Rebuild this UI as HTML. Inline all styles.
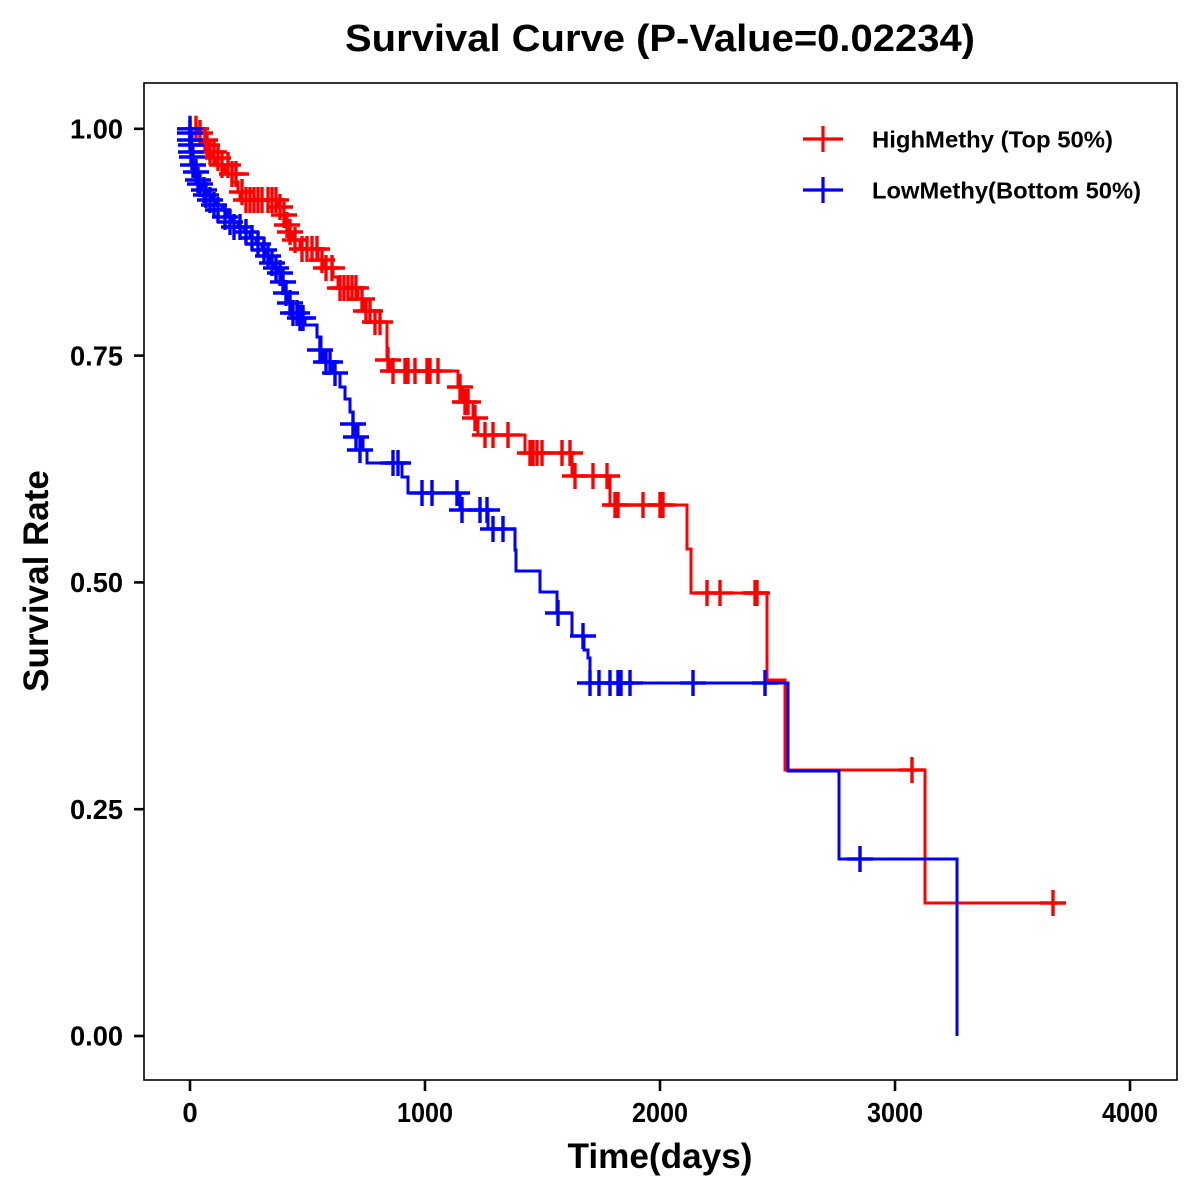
<!DOCTYPE html>
<html>
<head>
<meta charset="utf-8">
<style>
html,body{margin:0;padding:0;background:#fff;}
svg{display:block;}
text{font-family:"Liberation Sans",Arial,sans-serif;font-weight:bold;fill:#000;}
</style>
</head>
<body>
<svg width="1200" height="1200" viewBox="0 0 1200 1200" xmlns="http://www.w3.org/2000/svg">
<defs>
<path id="pl" d="M-13,0H13M0,-13V13" />
</defs>
<rect x="0" y="0" width="1200" height="1200" fill="#fff"/>

<!-- title -->
<text x="660" y="51" font-size="38" text-anchor="middle" textLength="630" lengthAdjust="spacingAndGlyphs">Survival Curve (P-Value=0.02234)</text>

<!-- frame -->
<rect x="144" y="83" width="1033" height="997" fill="none" stroke="#000" stroke-width="1.6"/>

<!-- y ticks -->
<g stroke="#000" stroke-width="2.6">
<line x1="134" y1="128.8" x2="144" y2="128.8"/>
<line x1="134" y1="355.6" x2="144" y2="355.6"/>
<line x1="134" y1="582.4" x2="144" y2="582.4"/>
<line x1="134" y1="809.2" x2="144" y2="809.2"/>
<line x1="134" y1="1036" x2="144" y2="1036"/>
</g>
<g font-size="27.5" text-anchor="end">
<text x="123" y="138.5" textLength="53" lengthAdjust="spacingAndGlyphs">1.00</text>
<text x="123" y="365.3" textLength="53" lengthAdjust="spacingAndGlyphs">0.75</text>
<text x="123" y="592.1" textLength="53" lengthAdjust="spacingAndGlyphs">0.50</text>
<text x="123" y="818.9" textLength="53" lengthAdjust="spacingAndGlyphs">0.25</text>
<text x="123" y="1045.7" textLength="53" lengthAdjust="spacingAndGlyphs">0.00</text>
</g>

<!-- x ticks -->
<g stroke="#000" stroke-width="2.6">
<line x1="190" y1="1080" x2="190" y2="1091"/>
<line x1="425" y1="1080" x2="425" y2="1091"/>
<line x1="660" y1="1080" x2="660" y2="1091"/>
<line x1="895" y1="1080" x2="895" y2="1091"/>
<line x1="1130" y1="1080" x2="1130" y2="1091"/>
</g>
<g font-size="27.5" text-anchor="middle">
<text x="190" y="1122">0</text>
<text x="425" y="1122" textLength="56" lengthAdjust="spacingAndGlyphs">1000</text>
<text x="660" y="1122" textLength="56" lengthAdjust="spacingAndGlyphs">2000</text>
<text x="895" y="1122" textLength="56" lengthAdjust="spacingAndGlyphs">3000</text>
<text x="1130" y="1122" textLength="56" lengthAdjust="spacingAndGlyphs">4000</text>
</g>

<!-- axis labels -->
<text x="660" y="1168" font-size="35" text-anchor="middle" textLength="185" lengthAdjust="spacingAndGlyphs">Time(days)</text>
<text transform="translate(48,581) rotate(-90)" font-size="35" text-anchor="middle">Survival Rate</text>

<!-- red curve -->
<g stroke="#ff0000" stroke-width="3" fill="none">
<path d="M190,128.8 H197 V133 H200 V140 H203 V145 H207 V152 H212 V158 H217 V165 H225 V174 H232 V182 H238 V192 H240 V200 H278 V207 H280 V215 H285 V225 H288 V232 H292 V240 H300 V249 H318 V260 H325 V268 H333 V277 H338 V288 H358 V299 H365 V311 H370 V322 H387 V360 H390 V371 H458 V387 H462 V402 H473 V418 H478 V435 H525 V453 H572 V476 H610 V505 H687 V549 H691 V593 H767 V680 H785 V770 H925 V903 H1065"/>
<g stroke-width="3.4">
<use href="#pl" x="196" y="128.8"/><use href="#pl" x="200" y="133"/><use href="#pl" x="205" y="140"/><use href="#pl" x="207" y="145"/>
<use href="#pl" x="210" y="152"/><use href="#pl" x="214" y="152"/><use href="#pl" x="218" y="158"/><use href="#pl" x="222" y="165"/>
<use href="#pl" x="228" y="165"/><use href="#pl" x="232" y="174"/><use href="#pl" x="236" y="174"/><use href="#pl" x="242" y="192"/>
<use href="#pl" x="246" y="200"/><use href="#pl" x="250" y="200"/><use href="#pl" x="254" y="200"/><use href="#pl" x="258" y="200"/>
<use href="#pl" x="262" y="200"/><use href="#pl" x="268" y="200"/><use href="#pl" x="272" y="200"/><use href="#pl" x="276" y="200"/>
<use href="#pl" x="280" y="207"/><use href="#pl" x="284" y="215"/><use href="#pl" x="287" y="225"/><use href="#pl" x="290" y="232"/>
<use href="#pl" x="295" y="240"/><use href="#pl" x="302" y="249"/><use href="#pl" x="307" y="249"/><use href="#pl" x="312" y="249"/>
<use href="#pl" x="317" y="249"/><use href="#pl" x="322" y="260"/><use href="#pl" x="326" y="268"/><use href="#pl" x="332" y="268"/>
<use href="#pl" x="340" y="288"/><use href="#pl" x="344" y="288"/><use href="#pl" x="348" y="288"/><use href="#pl" x="352" y="288"/>
<use href="#pl" x="356" y="288"/><use href="#pl" x="362" y="299"/><use href="#pl" x="366" y="311"/><use href="#pl" x="370" y="311"/>
<use href="#pl" x="375" y="322"/><use href="#pl" x="380" y="322"/><use href="#pl" x="388" y="360"/>
<use href="#pl" x="393" y="371"/><use href="#pl" x="405" y="371"/><use href="#pl" x="408" y="371"/><use href="#pl" x="415" y="371"/>
<use href="#pl" x="427" y="371"/><use href="#pl" x="430" y="371"/><use href="#pl" x="438" y="371"/><use href="#pl" x="460" y="387"/>
<use href="#pl" x="465" y="402"/><use href="#pl" x="468" y="402"/><use href="#pl" x="475" y="418"/><use href="#pl" x="485" y="435"/>
<use href="#pl" x="493" y="435"/><use href="#pl" x="508" y="435"/><use href="#pl" x="530" y="453"/><use href="#pl" x="533" y="453"/>
<use href="#pl" x="537" y="453"/><use href="#pl" x="542" y="453"/><use href="#pl" x="562" y="453"/><use href="#pl" x="570" y="453"/>
<use href="#pl" x="575" y="476"/><use href="#pl" x="593" y="476"/><use href="#pl" x="607" y="476"/><use href="#pl" x="615" y="505"/>
<use href="#pl" x="618" y="505"/><use href="#pl" x="643" y="505"/><use href="#pl" x="660" y="505"/><use href="#pl" x="663" y="505"/>
<use href="#pl" x="707" y="593"/><use href="#pl" x="720" y="593"/><use href="#pl" x="755" y="593"/><use href="#pl" x="757" y="593"/>
<use href="#pl" x="912" y="770"/><use href="#pl" x="1053" y="903"/>
</g>
</g>

<!-- blue curve -->
<g stroke="#0000ff" stroke-width="3" fill="none">
<path d="M190,128.8 H191 V133 H192 V140 V145 H193 V152 V157 H194 V165 H196 V172 H198 V180 H200 V184 H203 V190 H207 V195 H212 V200 H217 V205 H222 V210 H227 V217 H232 V222 H238 V227 H244 V232 H250 V238 H256 V244 H262 V250 H266 V256 H270 V263 H274 V268 H278 V273 H282 V282 H285 V293 H288 V303 H292 V313 H297 V318 H305 V325 H317 V337 H321 V350 H323 V362 H333 V373 H340 V387 H345 V399 H350 V412 H353 V424 H358 V437 H363 V450 H367 V463 H402 V477 H408 V493 H460 V510 H488 V529 H515 V550 H516 V571 H540 V592 H557 V613 H572 V636 H584 V650 H588 V658 H590 V683 H788 V771 H839 V859 H957 V1036"/>
<g stroke-width="3.4">
<use href="#pl" x="190" y="128.8"/><use href="#pl" x="190" y="133"/><use href="#pl" x="190" y="140"/><use href="#pl" x="191" y="145"/>
<use href="#pl" x="191" y="152"/><use href="#pl" x="192" y="157"/><use href="#pl" x="193" y="165"/><use href="#pl" x="196" y="172"/>
<use href="#pl" x="198" y="180"/><use href="#pl" x="200" y="184"/><use href="#pl" x="204" y="190"/><use href="#pl" x="206" y="195"/>
<use href="#pl" x="210" y="200"/><use href="#pl" x="214" y="205"/><use href="#pl" x="218" y="210"/><use href="#pl" x="225" y="217"/>
<use href="#pl" x="230" y="222"/><use href="#pl" x="234" y="227"/><use href="#pl" x="240" y="227"/><use href="#pl" x="246" y="232"/>
<use href="#pl" x="252" y="238"/><use href="#pl" x="258" y="244"/><use href="#pl" x="264" y="250"/><use href="#pl" x="268" y="256"/>
<use href="#pl" x="272" y="263"/><use href="#pl" x="276" y="268"/><use href="#pl" x="280" y="273"/><use href="#pl" x="283" y="282"/>
<use href="#pl" x="286" y="293"/><use href="#pl" x="290" y="303"/><use href="#pl" x="293" y="313"/><use href="#pl" x="297" y="313"/>
<use href="#pl" x="300" y="318"/><use href="#pl" x="303" y="318"/><use href="#pl" x="320" y="350"/><use href="#pl" x="326" y="362"/>
<use href="#pl" x="330" y="362"/><use href="#pl" x="335" y="373"/><use href="#pl" x="353" y="424"/><use href="#pl" x="356" y="437"/>
<use href="#pl" x="360" y="450"/><use href="#pl" x="393" y="463"/><use href="#pl" x="398" y="463"/><use href="#pl" x="422" y="493"/>
<use href="#pl" x="432" y="493"/><use href="#pl" x="457" y="493"/><use href="#pl" x="462" y="510"/><use href="#pl" x="480" y="510"/>
<use href="#pl" x="487" y="510"/><use href="#pl" x="493" y="529"/><use href="#pl" x="503" y="529"/><use href="#pl" x="558" y="613"/>
<use href="#pl" x="583" y="636"/><use href="#pl" x="590" y="683"/><use href="#pl" x="599" y="683"/><use href="#pl" x="610" y="683"/>
<use href="#pl" x="618" y="683"/><use href="#pl" x="621" y="683"/><use href="#pl" x="630" y="683"/><use href="#pl" x="693" y="683"/>
<use href="#pl" x="765" y="683"/><use href="#pl" x="860" y="859"/>
</g>
</g>

<!-- legend -->
<g stroke-width="3.2" fill="none">
<path d="M803,139H843M823,126V152" stroke="#ff0000"/>
<path d="M803,190H843M823,177V203" stroke="#0000ff"/>
</g>
<text x="872" y="147.5" font-size="23.5" textLength="241" lengthAdjust="spacingAndGlyphs">HighMethy (Top 50%)</text>
<text x="872" y="198.5" font-size="23.5" textLength="269" lengthAdjust="spacingAndGlyphs">LowMethy(Bottom 50%)</text>
</svg>
</body>
</html>
